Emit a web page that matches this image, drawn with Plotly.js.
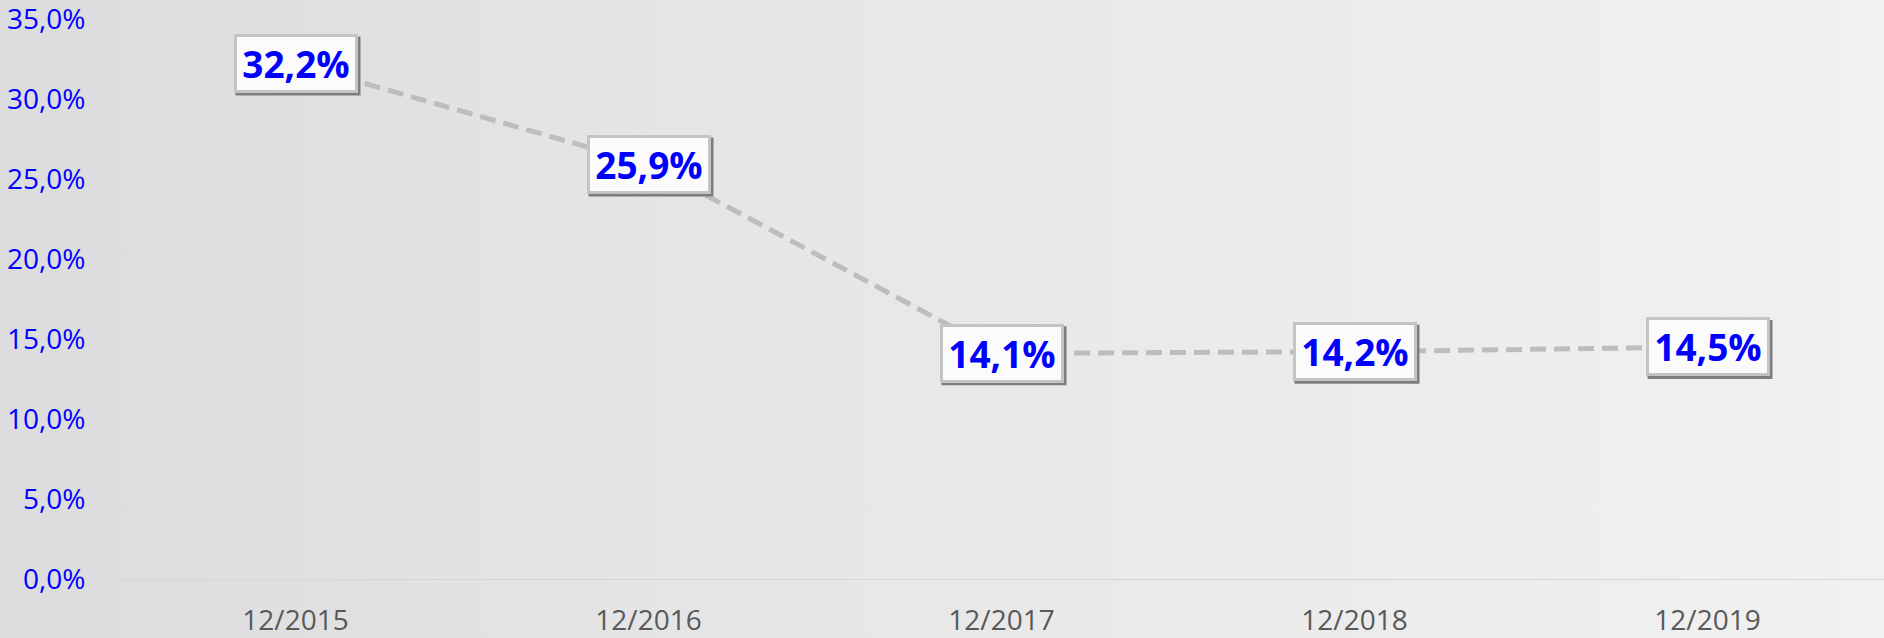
<!DOCTYPE html>
<html>
<head>
<meta charset="utf-8">
<script src="https://cdn.plot.ly/plotly-3.0.1.min.js"></script>
<style>
  html, body { margin: 0; padding: 0; }
  body { width: 1884px; height: 638px; background: linear-gradient(to right, #dcdcde 0%, #e6e6e7 40%, #f1f1f1 100%); }
  #chart { width: 1884px; height: 638px; }
</style>
</head>
<body>
<div id="chart"></div>
<script>
const categories = ['12/2015', '12/2016', '12/2017', '12/2018', '12/2019'];
const values = [32.2, 25.9, 14.1, 14.2, 14.5];
const yTickValues = [0, 5, 10, 15, 20, 25, 30, 35];

function fmt(v) { return v.toFixed(1).replace('.', ',') + '%'; }

const trace = {
  x: categories,
  y: values,
  type: 'scatter',
  mode: 'lines',
  line: { color: '#bdbdbd', width: 5, dash: '16px,8px' },
  hoverinfo: 'skip',
  showlegend: false
};

const annotations = categories.map((c, i) => ({
  x: c, y: values[i], xref: 'x', yref: 'y',
  text: '<b>' + fmt(values[i]) + '</b>', showarrow: false,
  font: { family: 'Open Sans', size: 37, color: '#0000ff' },
  bgcolor: '#fbfbfb', bordercolor: '#c4c4c4', borderwidth: 3, borderpad: 3,
  width: 112, height: 47
}));

// darker bevel edge under each label box (pixel-sized, anchored at the data point)
const shapes = categories.map((c, i) => ({
  type: 'rect', layer: 'above',
  xref: 'x', yref: 'y',
  xsizemode: 'pixel', ysizemode: 'pixel',
  xanchor: c, yanchor: values[i],
  x0: -60, x1: 65, y0: -32, y1: 27,
  fillcolor: '#7d7d7d', line: { width: 0 }
}));

const layout = {
  width: 1884, height: 638,
  margin: { l: 119, r: 0, t: 14, b: 59, pad: 0 },
  paper_bgcolor: 'rgba(0,0,0,0)',
  plot_bgcolor: 'rgba(0,0,0,0)',
  showlegend: false,
  hovermode: false,
  xaxis: {
    type: 'category',
    range: [-0.5, 4.5],
    showgrid: false,
    zeroline: false,
    showline: true,
    linecolor: '#d6d6d6',
    linewidth: 1,
    ticks: 'outside', ticklen: 16, tickcolor: 'rgba(0,0,0,0)',
    tickfont: { family: 'Open Sans', size: 28, color: '#595959' },
    fixedrange: true
  },
  yaxis: {
    range: [0, 35.3],
    tickmode: 'array',
    tickvals: yTickValues,
    ticktext: yTickValues.map(fmt),
    ticklabeloverflow: 'allow',
    showgrid: false,
    zeroline: false,
    showline: false,
    ticks: 'outside', ticklen: 27, tickcolor: 'rgba(0,0,0,0)',
    tickfont: { family: 'Open Sans', size: 28, color: '#0000ff' },
    fixedrange: true
  },
  shapes: shapes,
  annotations: annotations
};

Plotly.newPlot('chart', [trace], layout, { displayModeBar: false, staticPlot: true });
</script>
</body>
</html>
